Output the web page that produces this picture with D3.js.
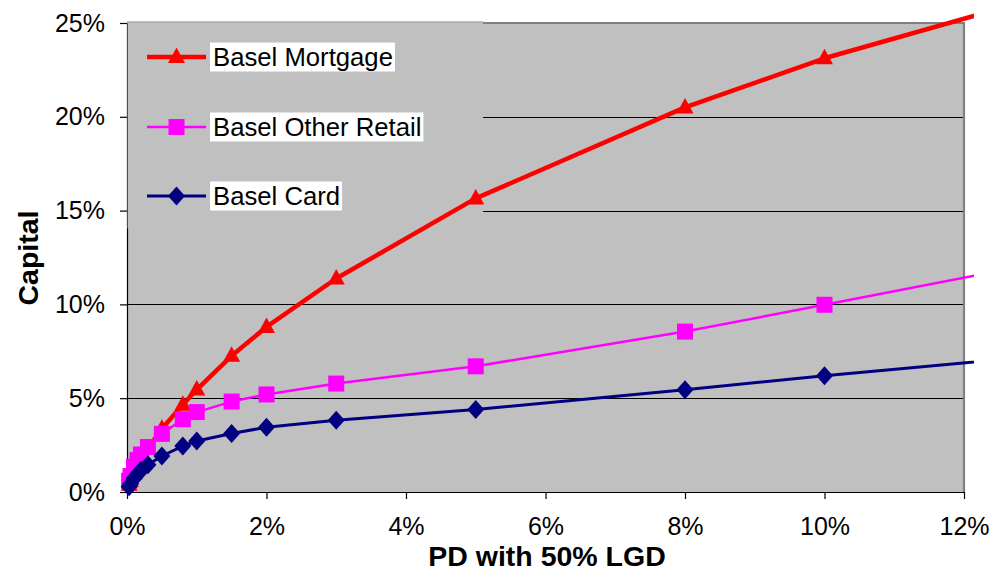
<!DOCTYPE html>
<html>
<head>
<meta charset="utf-8">
<script src="https://cdn.jsdelivr.net/npm/d3@7"></script>
<style>
  html, body { margin: 0; padding: 0; background: #fff; }
  svg { display: block; font-family: "Liberation Sans", Arial, sans-serif; }
</style>
</head>
<body>
<svg id="chart" width="992" height="575"></svg>
<script>
// Probability of default (x) and capital requirement (y) at 50% LGD
const pd          = [0.0003, 0.0005, 0.001, 0.0015, 0.002, 0.003, 0.005, 0.008, 0.01, 0.015, 0.02, 0.03, 0.05, 0.08, 0.10, 0.15];
const mortgage    = [0.0038, 0.0058, 0.0100, 0.0137, 0.0171, 0.0231, 0.0337, 0.0465, 0.0546, 0.0726, 0.0880, 0.1138, 0.1565, 0.2050, 0.2312, 0.2840];
const otherRetail = [0.0060, 0.0085, 0.0135, 0.0170, 0.0200, 0.0240, 0.0310, 0.0388, 0.0426, 0.0482, 0.0520, 0.0578, 0.0670, 0.0855, 0.0998, 0.1360];
const card        = [0.0028, 0.0042, 0.0072, 0.0095, 0.0115, 0.0145, 0.0192, 0.0245, 0.0272, 0.0312, 0.0345, 0.0382, 0.0440, 0.0545, 0.0620, 0.0790];

const seriesNames = ["Basel Mortgage", "Basel Other Retail", "Basel Card"];
const xTicks = [0, 0.02, 0.04, 0.06, 0.08, 0.10, 0.12];
const yTicks = [0, 0.05, 0.10, 0.15, 0.20, 0.25];
const xTitle = "PD with 50% LGD";
const yTitle = "Capital";

const series = [
  { name: seriesNames[0], values: mortgage,    color: "#FF0000", width: 4.5, marker: "triangle" },
  { name: seriesNames[1], values: otherRetail, color: "#FF00FF", width: 2.5, marker: "square" },
  { name: seriesNames[2], values: card,        color: "#000080", width: 3,   marker: "diamond" }
];

const svg = d3.select("#chart");
const plotLeft = 127, plotRight = 964, plotTop = 23, plotBottom = 492;

const x = d3.scaleLinear().domain([0, 0.12]).range([plotLeft, plotRight]);
const y = d3.scaleLinear().domain([0, 0.25]).range([plotBottom, plotTop]);
const pct = d3.format(".0%");

// Plot area background
svg.append("rect")
  .attr("x", plotLeft).attr("y", plotTop)
  .attr("width", plotRight - plotLeft).attr("height", plotBottom - plotTop)
  .attr("fill", "#C0C0C0");

// Horizontal gridlines
svg.append("g").selectAll("line")
  .data(yTicks.filter(t => t > 0 && t < 0.25))
  .join("line")
  .attr("x1", plotLeft).attr("x2", plotRight)
  .attr("y1", d => Math.round(y(d)) + 0.5).attr("y2", d => Math.round(y(d)) + 0.5)
  .attr("stroke", "#000").attr("stroke-width", 1);

// Plot area border (top and right)
svg.append("path")
  .attr("d", `M${plotLeft},${plotTop} H${plotRight} V${plotBottom}`)
  .attr("fill", "none").attr("stroke", "#808080").attr("stroke-width", 2.2);

// Axes
const yAxis = d3.axisLeft(y).tickValues(yTicks).tickFormat(pct).tickSize(7).tickSizeOuter(0).tickPadding(15);
const xAxis = d3.axisBottom(x).tickValues(xTicks).tickFormat(pct).tickSize(7).tickSizeOuter(0).tickPadding(18);

const gy = svg.append("g").attr("transform", `translate(${plotLeft},0)`).call(yAxis);
const gx = svg.append("g").attr("transform", `translate(0,${plotBottom})`).call(xAxis);
[gx, gy].forEach(g => {
  g.select(".domain").attr("stroke", "#000").attr("stroke-width", 1.2);
  g.selectAll(".tick line").attr("stroke", "#000").attr("stroke-width", 1.2);
  g.selectAll(".tick text")
    .attr("fill", "#000")
    .style("font-size", "25px")
    .style("font-family", "'Liberation Sans', Arial, sans-serif");
});

// Axis titles
svg.append("text")
  .attr("x", 547).attr("y", 566)
  .attr("text-anchor", "middle")
  .style("font-size", "28.5px").style("font-weight", "bold")
  .text(xTitle);

svg.append("text")
  .attr("transform", "translate(38,258) rotate(-90)")
  .attr("text-anchor", "middle")
  .style("font-size", "28.5px").style("font-weight", "bold")
  .text(yTitle);

// Marker shapes
function markerPath(type) {
  if (type === "triangle") return "M0,-9.5L8.5,6L-8.5,6Z";
  if (type === "square") return "M-8,-8H8V8H-8Z";
  return "M0,-9.5L8.5,0L0,9.5L-8.5,0Z";
}

// Legend box: opaque fill over the gridlines, thin light edge along the top
const legend = svg.append("g");
legend.append("rect")
  .attr("x", plotLeft + 0.6).attr("y", 21.5)
  .attr("width", 483 - plotLeft - 0.6).attr("height", 207)
  .attr("fill", "#C0C0C0");
legend.append("line")
  .attr("x1", plotLeft).attr("x2", 483).attr("y1", 22).attr("y2", 22)
  .attr("stroke", "#a4a4a4").attr("stroke-width", 1);

const rowY = [57, 127, 196];
series.forEach((s, i) => {
  const cy = rowY[i];
  const row = legend.append("g");
  row.append("line")
    .attr("x1", 147).attr("x2", 206).attr("y1", cy).attr("y2", cy)
    .attr("stroke", s.color).attr("stroke-width", s.width);
  row.append("path")
    .attr("d", markerPath(s.marker))
    .attr("transform", `translate(176.5,${cy})`)
    .attr("fill", s.color);
  const bg = row.append("rect").attr("fill", "#fff");
  const t = row.append("text")
    .attr("x", 213).attr("y", cy + 9)
    .style("font-size", "25.7px")
    .attr("fill", "#000")
    .text(s.name);
  const w = t.node().getComputedTextLength();
  bg.attr("x", 210).attr("y", cy - 14.5).attr("width", w + 5).attr("height", 29);
});

// Series lines and markers, clipped at the chart edge
svg.append("clipPath").attr("id", "edge")
  .append("rect").attr("x", 0).attr("y", 0).attr("width", 974).attr("height", 575);

const line = d3.line().x(d => x(d[0])).y(d => y(d[1]));
const plot = svg.append("g").attr("clip-path", "url(#edge)");

// Series drawn in order: mortgage first, card on top
series.forEach(s => {
  const pts = pd.map((p, i) => [p, s.values[i]]);
  plot.append("path")
    .datum(pts)
    .attr("d", line)
    .attr("fill", "none")
    .attr("stroke", s.color)
    .attr("stroke-width", s.width)
    .attr("stroke-linejoin", "round");
  plot.append("g").selectAll("path")
    .data(pts)
    .join("path")
    .attr("d", markerPath(s.marker))
    .attr("transform", d => `translate(${x(d[0])},${y(d[1])})`)
    .attr("fill", s.color);
});
</script>
</body>
</html>
